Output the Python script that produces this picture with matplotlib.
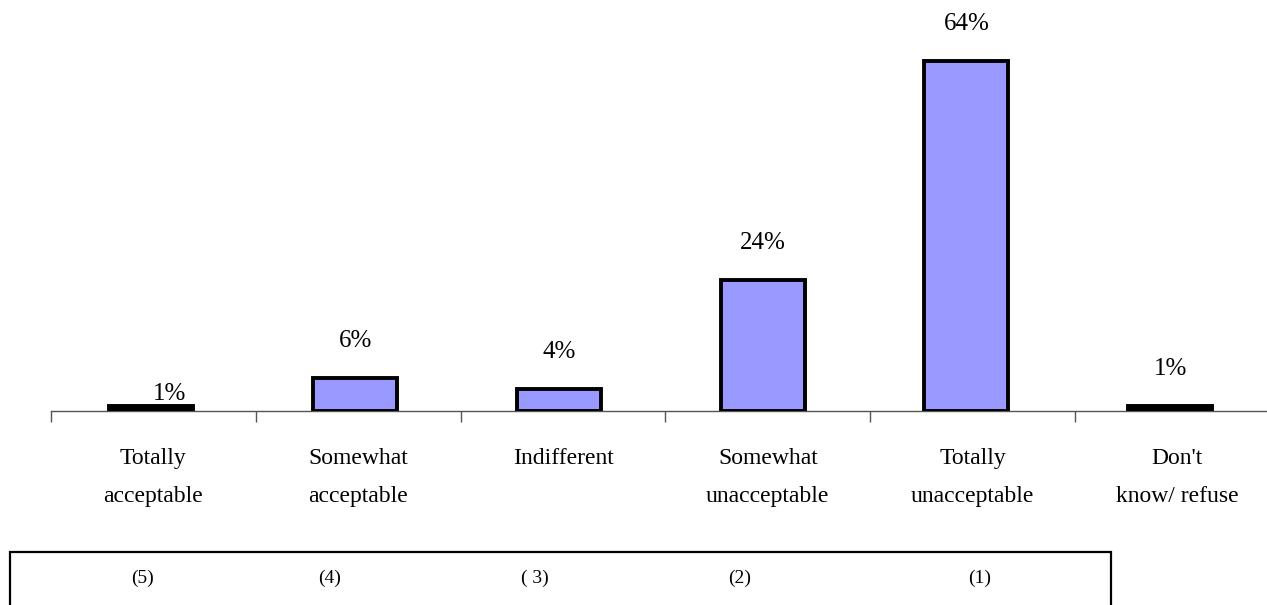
import matplotlib
matplotlib.use("Agg")
import matplotlib.pyplot as plt
from matplotlib.patches import Rectangle

categories = ["Totally\nacceptable", "Somewhat\nacceptable", "Indifferent",
              "Somewhat\nunacceptable", "Totally\nunacceptable", "Don't\nknow/ refuse"]
values = [1, 6, 4, 24, 64, 1]
value_labels = ["1%", "6%", "4%", "24%", "64%", "1%"]
scale_codes = ["(5)", "(4)", "( 3)", "(2)", "(1)"]

plt.rcParams["font.family"] = ["Liberation Serif", "DejaVu Serif"]

W, H = 1267, 605
fig = plt.figure(figsize=(W / 100, H / 100), dpi=100)

# main axes: baseline at y=411px, category width ~205px starting at x=51px
left_px, base_px, cat_px = 51, 411, 204.8
ymax = 70
px_per_unit = 350 / 64
ax = fig.add_axes([left_px / W, (H - base_px) / H,
                   cat_px * len(categories) / W, ymax * px_per_unit / H])
x = list(range(len(categories)))
bar_x = [i - 0.01 - 0.005 * i for i in x]
bars = ax.bar(bar_x, values, width=0.41, color="#9999FF",
              edgecolor="black", linewidth=2.8, zorder=3)
for b, v in zip(bars, values):
    if v <= 1:
        b.set_facecolor("black")

ax.set_xlim(-0.5, len(categories) - 0.5)
ax.set_ylim(0, ymax)
for s in ["top", "right", "left"]:
    ax.spines[s].set_visible(False)
ax.spines["bottom"].set_color("#555555")
ax.spines["bottom"].set_linewidth(1.0)
ax.set_yticks([])
ax.set_xticks([i - 0.5 for i in range(len(categories) + 1)])
ax.set_xticklabels([])
ax.tick_params(axis="x", direction="out", length=8, width=1.0, color="#555555")

# value labels above bars (baseline ~31px above the bar top)
offsets = {0: (0.09, -4.6)}
for i, (bx, v, lab) in enumerate(zip(bar_x, values, value_labels)):
    dx, dy = offsets.get(i, (0, 0))
    ax.text(bx + dx, v + 31 / px_per_unit + dy, lab, ha="center", va="baseline",
            fontsize=18)

# category labels below the axis, one text per line
line_baselines = [464, 502]
for i, c in enumerate(categories):
    for j, line in enumerate(c.split("\n")):
        ax.text(i, -(line_baselines[j] - base_px) / px_per_unit, line,
                ha="center", va="baseline", fontsize=17, clip_on=False)

# scale code box at the bottom
fig.patches.append(Rectangle((10 / W, -0.1), (1111 - 10) / W, (H - 552) / H + 0.1,
                             transform=fig.transFigure, fill=False,
                             edgecolor="black", linewidth=1.6))
code_x = [143, 330, 535, 740, 980]
for cx, code in zip(code_x, scale_codes):
    fig.text(cx / W, (H - 578) / H, code, ha="center", va="center", fontsize=14)

fig.savefig("out.png", dpi=100)
